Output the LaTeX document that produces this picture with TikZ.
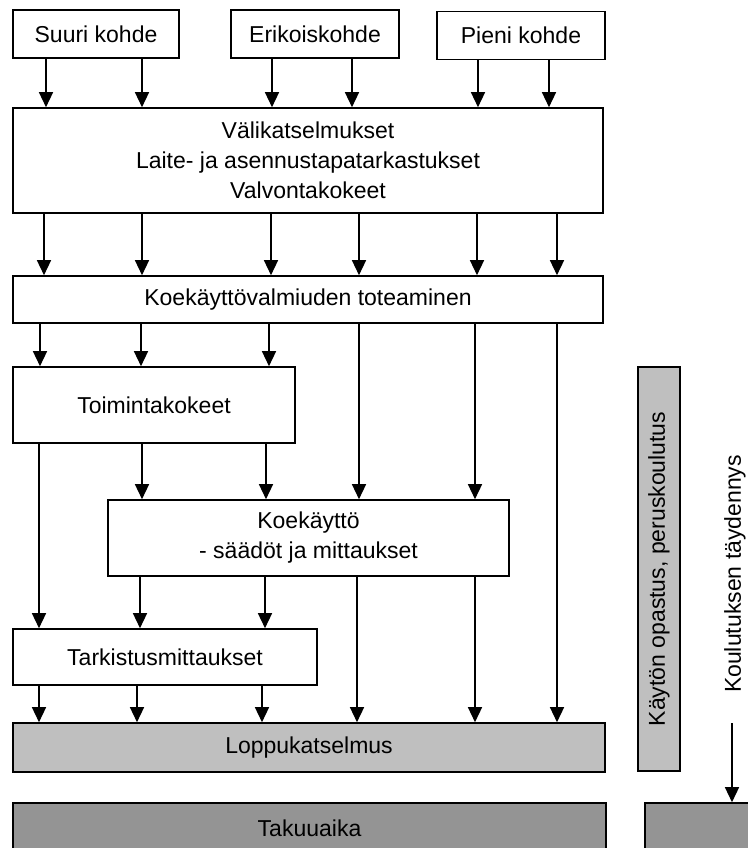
\documentclass[tikz,border=0pt]{standalone}
\usepackage{fontspec}
\setmainfont{Liberation Sans}
\usepackage{xcolor}
\usetikzlibrary{arrows.meta}

\begin{document}
\begin{tikzpicture}[x=1pt, y=-1pt, >={Triangle[length=15pt,width=14pt]},
  every node/.style={draw, line width=1.6pt, align=center, inner sep=0pt,
  font=\fontsize{23}{30}\selectfont},
  flow/.style={->, line width=1.4pt},
  light/.style={fill=black!25}, dark/.style={fill=black!42}]
  \useasboundingbox (0,0) rectangle (747,848);
  \node[minimum width=166pt, minimum height=48pt] (suuri) at (96,34) {Suuri kohde};
  \node[minimum width=168pt, minimum height=48pt] (eriko) at (315,34) {Erikoiskohde};
  \node[minimum width=168pt, minimum height=48pt] (pieni) at (521,35.5) {Pieni kohde};
  \node[minimum width=590pt, minimum height=105pt] (vali) at (308,160.5)
    {Välikatselmukset\\ Laite- ja asennustapatarkastukset\\ Valvontakokeet};
  \node[minimum width=590pt, minimum height=47pt] (valmius) at (308,299.5)
    {Koekäyttövalmiuden toteaminen};
  \node[minimum width=282pt, minimum height=76pt] (toiminta) at (154,405) {Toimintakokeet};
  \node[minimum width=401pt, minimum height=76pt] (koekaytto) at (308.5,538)
    {Koekäyttö\\ - säädöt ja mittaukset};
  \node[minimum width=304pt, minimum height=56pt] (tarkistus) at (165,657) {Tarkistusmittaukset};
  \node[light, minimum width=592pt, minimum height=49pt] (loppu) at (309,747.5) {Loppukatselmus};
  \node[dark, minimum width=593pt, minimum height=50pt] (takuu) at (309.5,828) {Takuuaika};
  \node[light, rotate=90, minimum width=404pt, minimum height=42pt] (opastus) at (659,569)
    {Käytön opastus, peruskoulutus};
  \node[draw=none, rotate=90] (taydennys) at (735,574) {Koulutuksen täydennys};
  \node[dark, minimum width=116pt, minimum height=50pt] (jatko) at (703,828) {};
  \coordinate (kstart) at (732,723);
  % kohteet -> valikatselmukset
  \draw[flow] (suuri.south -| 46,0) -- (vali.north -| 46,0);
  \draw[flow] (suuri.south -| 142,0) -- (vali.north -| 142,0);
  \draw[flow] (eriko.south -| 272,0) -- (vali.north -| 272,0);
  \draw[flow] (eriko.south -| 352,0) -- (vali.north -| 352,0);
  \draw[flow] (pieni.south -| 478,0) -- (vali.north -| 478,0);
  \draw[flow] (pieni.south -| 549,0) -- (vali.north -| 549,0);
  % valikatselmukset -> valmius
  \draw[flow] (vali.south -| 44,0) -- (valmius.north -| 44,0);
  \draw[flow] (vali.south -| 142,0) -- (valmius.north -| 142,0);
  \draw[flow] (vali.south -| 271,0) -- (valmius.north -| 271,0);
  \draw[flow] (vali.south -| 359,0) -- (valmius.north -| 359,0);
  \draw[flow] (vali.south -| 477,0) -- (valmius.north -| 477,0);
  \draw[flow] (vali.south -| 557,0) -- (valmius.north -| 557,0);
  % valmius -> eteenpain
  \draw[flow] (valmius.south -| 40,0) -- (toiminta.north -| 40,0);
  \draw[flow] (valmius.south -| 141,0) -- (toiminta.north -| 141,0);
  \draw[flow] (valmius.south -| 269,0) -- (toiminta.north -| 269,0);
  \draw[flow] (valmius.south -| 359,0) -- (koekaytto.north -| 359,0);
  \draw[flow] (valmius.south -| 475,0) -- (koekaytto.north -| 475,0);
  \draw[flow] (valmius.south -| 557,0) -- (loppu.north -| 557,0);
  % toimintakokeet
  \draw[flow] (toiminta.south -| 39,0) -- (tarkistus.north -| 39,0);
  \draw[flow] (toiminta.south -| 142,0) -- (koekaytto.north -| 142,0);
  \draw[flow] (toiminta.south -| 266,0) -- (koekaytto.north -| 266,0);
  % koekaytto
  \draw[flow] (koekaytto.south -| 140,0) -- (tarkistus.north -| 140,0);
  \draw[flow] (koekaytto.south -| 265,0) -- (tarkistus.north -| 265,0);
  \draw[flow] (koekaytto.south -| 357,0) -- (loppu.north -| 357,0);
  \draw[flow] (koekaytto.south -| 475,0) -- (loppu.north -| 475,0);
  % tarkistus -> loppukatselmus
  \draw[flow] (tarkistus.south -| 39,0) -- (loppu.north -| 39,0);
  \draw[flow] (tarkistus.south -| 137,0) -- (loppu.north -| 137,0);
  \draw[flow] (tarkistus.south -| 262,0) -- (loppu.north -| 262,0);
  \draw[flow] (kstart) -- (jatko.north -| kstart);
\end{tikzpicture}
\end{document}
